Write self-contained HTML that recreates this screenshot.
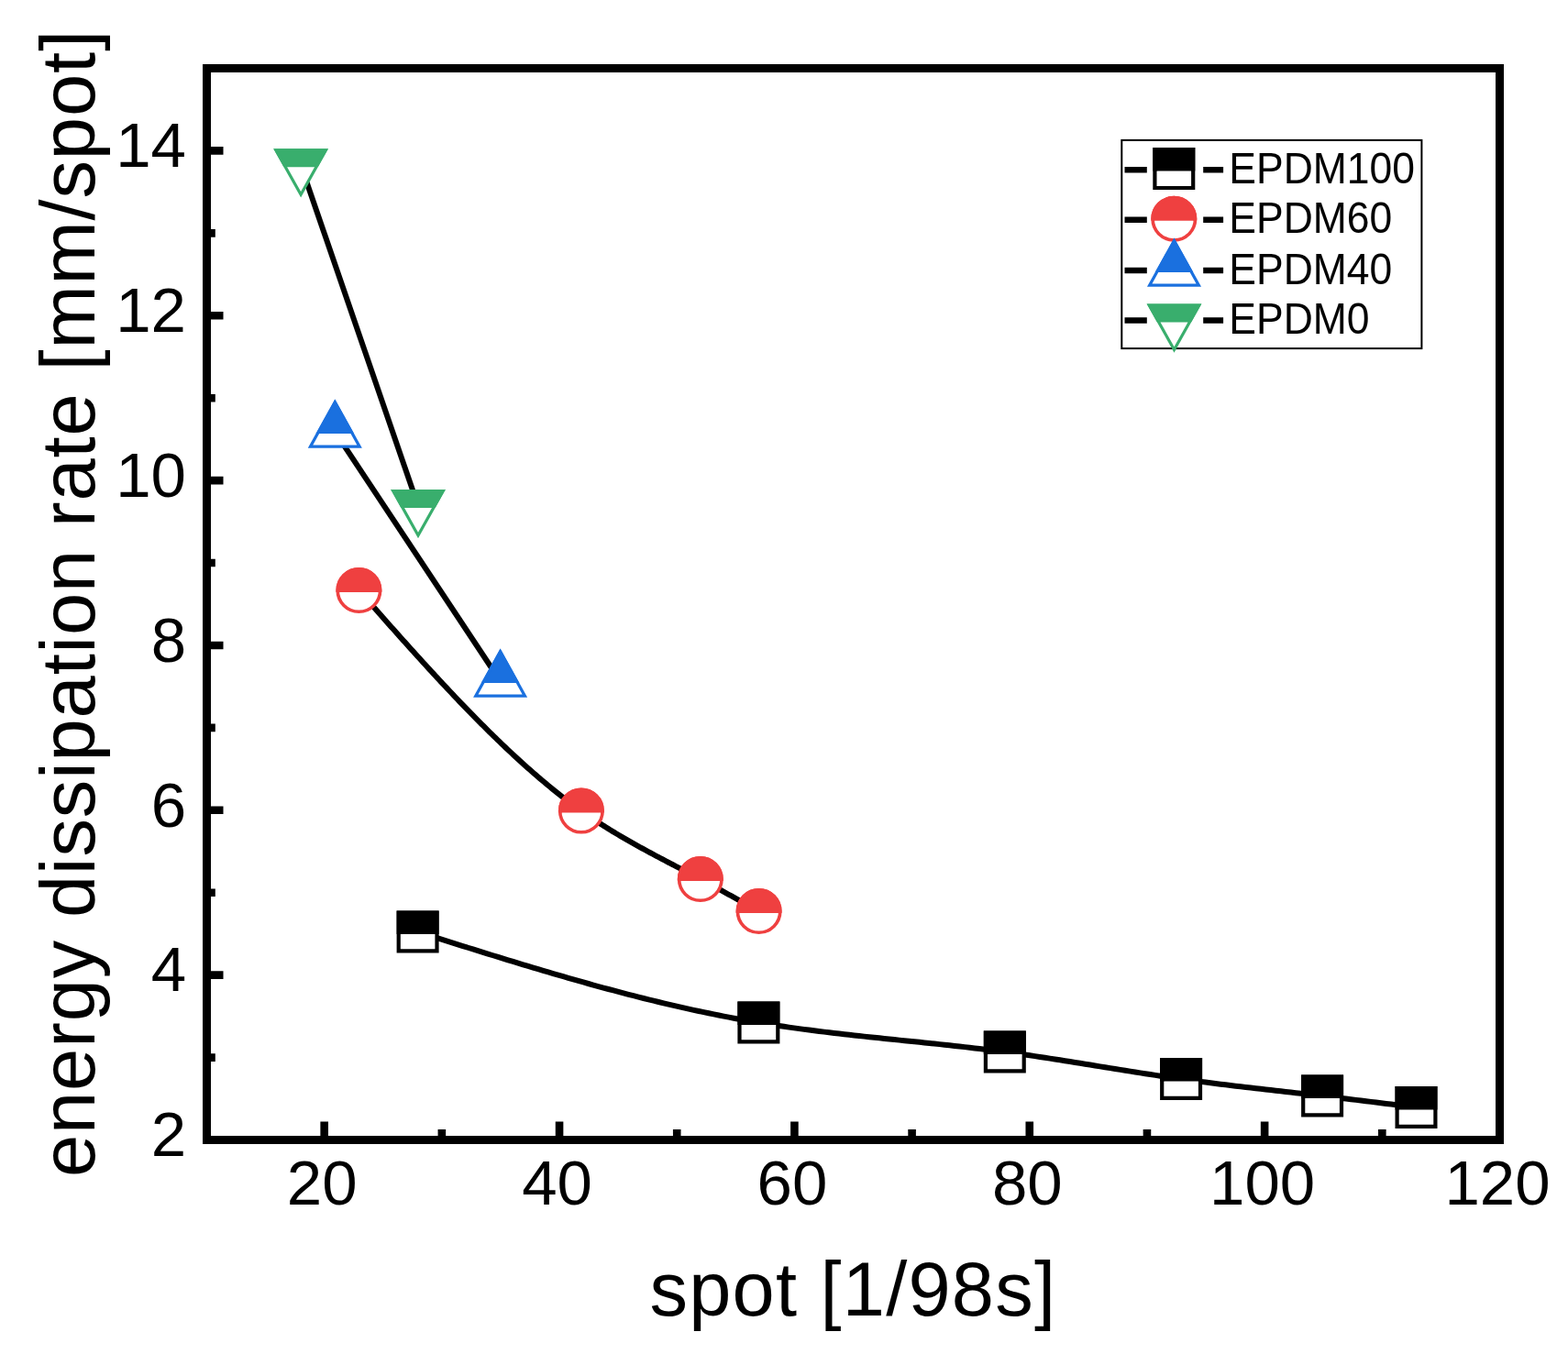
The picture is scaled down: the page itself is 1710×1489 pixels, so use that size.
<!DOCTYPE html>
<html><head><meta charset="utf-8"><title>energy dissipation rate vs spot</title>
<style>
html,body{margin:0;padding:0;background:#fff;}
body{width:1710px;height:1489px;overflow:hidden;}
svg{display:block;}
text{font-family:'Liberation Sans', Arial, sans-serif;fill:#000;}
</style></head><body>
<svg width="1710" height="1489" viewBox="0 0 1710 1489">
<rect x="0" y="0" width="1710" height="1489" fill="#fff"/>

<g fill="none" stroke="#000" stroke-width="6.0" stroke-linejoin="round">
<path d="M455.60,1016.50 L461.07,1018.23 L466.54,1019.96 L472.02,1021.69 L477.49,1023.42 L482.96,1025.14 L488.43,1026.87 L493.90,1028.59 L499.37,1030.31 L504.85,1032.03 L510.32,1033.74 L515.79,1035.45 L521.26,1037.16 L526.73,1038.86 L532.21,1040.56 L537.68,1042.25 L543.15,1043.94 L548.62,1045.62 L554.09,1047.30 L559.57,1048.97 L565.04,1050.63 L570.51,1052.29 L575.98,1053.94 L581.45,1055.58 L586.92,1057.21 L592.40,1058.83 L597.87,1060.45 L603.34,1062.05 L608.81,1063.65 L614.28,1065.23 L619.76,1066.81 L625.23,1068.38 L630.70,1069.93 L636.17,1071.47 L641.64,1073.00 L647.12,1074.52 L652.59,1076.03 L658.06,1077.52 L663.53,1079.00 L669.00,1080.47 L674.47,1081.92 L679.95,1083.36 L685.42,1084.79 L690.89,1086.20 L696.36,1087.59 L701.83,1088.97 L707.31,1090.33 L712.78,1091.68 L718.25,1093.01 L723.72,1094.32 L729.19,1095.62 L734.66,1096.89 L740.14,1098.15 L745.61,1099.39 L751.08,1100.61 L756.55,1101.82 L762.02,1103.00 L767.50,1104.16 L772.97,1105.31 L778.44,1106.43 L783.91,1107.53 L789.38,1108.61 L794.86,1109.67 L800.33,1110.71 L805.80,1111.72 L811.27,1112.71 L816.74,1113.68 L822.21,1114.63 L827.69,1115.55 L833.16,1116.44 L838.63,1117.32 L844.10,1118.17 L849.57,1119.00 L855.05,1119.81 L860.52,1120.60 L865.99,1121.37 L871.46,1122.12 L876.93,1122.86 L882.41,1123.57 L887.88,1124.28 L893.35,1124.96 L898.82,1125.64 L904.29,1126.30 L909.76,1126.94 L915.24,1127.58 L920.71,1128.20 L926.18,1128.82 L931.65,1129.43 L937.12,1130.02 L942.60,1130.61 L948.07,1131.20 L953.54,1131.78 L959.01,1132.35 L964.48,1132.92 L969.95,1133.48 L975.43,1134.05 L980.90,1134.61 L986.37,1135.17 L991.84,1135.73 L997.31,1136.29 L1002.79,1136.85 L1008.26,1137.42 L1013.73,1137.99 L1019.20,1138.56 L1024.67,1139.14 L1030.15,1139.73 L1035.62,1140.32 L1041.09,1140.92 L1046.56,1141.52 L1052.03,1142.14 L1057.50,1142.77 L1062.98,1143.40 L1068.45,1144.05 L1073.92,1144.71 L1079.39,1145.39 L1084.86,1146.08 L1090.34,1146.78 L1095.81,1147.50 L1101.28,1148.24 L1106.75,1148.99 L1112.22,1149.76 L1117.69,1150.54 L1123.17,1151.33 L1128.64,1152.14 L1134.11,1152.96 L1139.58,1153.78 L1145.05,1154.62 L1150.53,1155.47 L1156.00,1156.32 L1161.47,1157.19 L1166.94,1158.05 L1172.41,1158.93 L1177.89,1159.80 L1183.36,1160.68 L1188.83,1161.57 L1194.30,1162.45 L1199.77,1163.34 L1205.24,1164.22 L1210.72,1165.11 L1216.19,1165.99 L1221.66,1166.87 L1227.13,1167.75 L1232.60,1168.62 L1238.08,1169.48 L1243.55,1170.34 L1249.02,1171.20 L1254.49,1172.04 L1259.96,1172.88 L1265.44,1173.70 L1270.91,1174.52 L1276.38,1175.32 L1281.85,1176.11 L1287.32,1176.89 L1292.79,1177.65 L1298.27,1178.40 L1303.74,1179.14 L1309.21,1179.87 L1314.68,1180.58 L1320.15,1181.28 L1325.63,1181.97 L1331.10,1182.65 L1336.57,1183.33 L1342.04,1183.99 L1347.51,1184.65 L1352.98,1185.30 L1358.46,1185.94 L1363.93,1186.58 L1369.40,1187.21 L1374.87,1187.84 L1380.34,1188.47 L1385.82,1189.09 L1391.29,1189.71 L1396.76,1190.33 L1402.23,1190.95 L1407.70,1191.57 L1413.18,1192.19 L1418.65,1192.81 L1424.12,1193.43 L1429.59,1194.06 L1435.06,1194.68 L1440.53,1195.32 L1446.01,1195.96 L1451.48,1196.60 L1456.95,1197.25 L1462.42,1197.90 L1467.89,1198.55 L1473.37,1199.21 L1478.84,1199.87 L1484.31,1200.54 L1489.78,1201.21 L1495.25,1201.88 L1500.73,1202.55 L1506.20,1203.23 L1511.67,1203.91 L1517.14,1204.59 L1522.61,1205.27 L1528.08,1205.95 L1533.56,1206.63 L1539.03,1207.32 L1544.50,1208.00"/>
<path d="M391.40,644.00 L393.59,646.48 L395.78,648.97 L397.98,651.45 L400.17,653.94 L402.36,656.42 L404.55,658.90 L406.74,661.38 L408.94,663.86 L411.13,666.34 L413.32,668.82 L415.51,671.30 L417.70,673.77 L419.90,676.24 L422.09,678.71 L424.28,681.18 L426.47,683.65 L428.66,686.11 L430.86,688.57 L433.05,691.03 L435.24,693.49 L437.43,695.94 L439.62,698.39 L441.82,700.84 L444.01,703.28 L446.20,705.72 L448.39,708.15 L450.58,710.58 L452.77,713.01 L454.97,715.43 L457.16,717.85 L459.35,720.27 L461.54,722.67 L463.73,725.08 L465.93,727.48 L468.12,729.87 L470.31,732.26 L472.50,734.64 L474.69,737.02 L476.89,739.39 L479.08,741.76 L481.27,744.12 L483.46,746.47 L485.65,748.82 L487.85,751.16 L490.04,753.49 L492.23,755.82 L494.42,758.14 L496.61,760.45 L498.81,762.76 L501.00,765.06 L503.19,767.35 L505.38,769.63 L507.57,771.90 L509.77,774.17 L511.96,776.43 L514.15,778.68 L516.34,780.92 L518.53,783.15 L520.73,785.38 L522.92,787.59 L525.11,789.80 L527.30,791.99 L529.49,794.18 L531.69,796.36 L533.88,798.53 L536.07,800.68 L538.26,802.83 L540.45,804.97 L542.65,807.10 L544.84,809.21 L547.03,811.32 L549.22,813.41 L551.41,815.50 L553.61,817.57 L555.80,819.63 L557.99,821.68 L560.18,823.72 L562.37,825.75 L564.56,827.77 L566.76,829.77 L568.95,831.76 L571.14,833.74 L573.33,835.70 L575.52,837.66 L577.72,839.60 L579.91,841.53 L582.10,843.44 L584.29,845.34 L586.48,847.23 L588.68,849.11 L590.87,850.97 L593.06,852.81 L595.25,854.65 L597.44,856.47 L599.64,858.27 L601.83,860.06 L604.02,861.84 L606.21,863.60 L608.40,865.34 L610.60,867.07 L612.79,868.79 L614.98,870.49 L617.17,872.17 L619.36,873.84 L621.56,875.49 L623.75,877.13 L625.94,878.75 L628.13,880.36 L630.32,881.94 L632.52,883.52 L634.71,885.07 L636.90,886.61 L639.09,888.13 L641.28,889.64 L643.48,891.13 L645.67,892.60 L647.86,894.06 L650.05,895.51 L652.24,896.94 L654.44,898.35 L656.63,899.76 L658.82,901.15 L661.01,902.52 L663.20,903.89 L665.39,905.24 L667.59,906.58 L669.78,907.91 L671.97,909.23 L674.16,910.53 L676.35,911.83 L678.55,913.12 L680.74,914.39 L682.93,915.66 L685.12,916.92 L687.31,918.17 L689.51,919.41 L691.70,920.64 L693.89,921.87 L696.08,923.09 L698.27,924.30 L700.47,925.50 L702.66,926.70 L704.85,927.89 L707.04,929.08 L709.23,930.26 L711.43,931.44 L713.62,932.61 L715.81,933.78 L718.00,934.94 L720.19,936.10 L722.39,937.26 L724.58,938.42 L726.77,939.57 L728.96,940.72 L731.15,941.87 L733.35,943.02 L735.54,944.16 L737.73,945.31 L739.92,946.45 L742.11,947.60 L744.31,948.74 L746.50,949.89 L748.69,951.04 L750.88,952.18 L753.07,953.33 L755.27,954.49 L757.46,955.64 L759.65,956.80 L761.84,957.96 L764.03,959.12 L766.23,960.29 L768.42,961.46 L770.61,962.64 L772.80,963.82 L774.99,965.00 L777.18,966.18 L779.38,967.37 L781.57,968.56 L783.76,969.76 L785.95,970.95 L788.14,972.15 L790.34,973.35 L792.53,974.55 L794.72,975.76 L796.91,976.97 L799.10,978.18 L801.30,979.39 L803.49,980.60 L805.68,981.81 L807.87,983.03 L810.06,984.24 L812.26,985.46 L814.45,986.68 L816.64,987.90 L818.83,989.12 L821.02,990.34 L823.22,991.56 L825.41,992.78 L827.60,994.00"/>
<path d="M365.30,471.00 L545.60,743.00"/>
<path d="M328.10,180.20 L456.00,552.00"/>
</g>
<clipPath id="c1"><rect x="422.60" y="983.50" width="66.00" height="35.50"/></clipPath><path d="M434.70,995.60 H476.50 V1037.40 H434.70 Z" fill="#fff" stroke="#000000" stroke-width="4.2" stroke-linejoin="miter"/><path d="M434.70,995.60 H476.50 V1037.40 H434.70 Z" fill="#000000" stroke="#000000" stroke-width="4.2" stroke-linejoin="miter" clip-path="url(#c1)"/>
<clipPath id="c2"><rect x="794.40" y="1082.50" width="66.00" height="35.50"/></clipPath><path d="M806.50,1094.60 H848.30 V1136.40 H806.50 Z" fill="#fff" stroke="#000000" stroke-width="4.2" stroke-linejoin="miter"/><path d="M806.50,1094.60 H848.30 V1136.40 H806.50 Z" fill="#000000" stroke="#000000" stroke-width="4.2" stroke-linejoin="miter" clip-path="url(#c2)"/>
<clipPath id="c3"><rect x="1062.80" y="1114.50" width="66.00" height="35.50"/></clipPath><path d="M1074.90,1126.60 H1116.70 V1168.40 H1074.90 Z" fill="#fff" stroke="#000000" stroke-width="4.2" stroke-linejoin="miter"/><path d="M1074.90,1126.60 H1116.70 V1168.40 H1074.90 Z" fill="#000000" stroke="#000000" stroke-width="4.2" stroke-linejoin="miter" clip-path="url(#c3)"/>
<clipPath id="c4"><rect x="1255.10" y="1144.00" width="66.00" height="35.50"/></clipPath><path d="M1267.20,1156.10 H1309.00 V1197.90 H1267.20 Z" fill="#fff" stroke="#000000" stroke-width="4.2" stroke-linejoin="miter"/><path d="M1267.20,1156.10 H1309.00 V1197.90 H1267.20 Z" fill="#000000" stroke="#000000" stroke-width="4.2" stroke-linejoin="miter" clip-path="url(#c4)"/>
<clipPath id="c5"><rect x="1409.10" y="1162.50" width="66.00" height="35.50"/></clipPath><path d="M1421.20,1174.60 H1463.00 V1216.40 H1421.20 Z" fill="#fff" stroke="#000000" stroke-width="4.2" stroke-linejoin="miter"/><path d="M1421.20,1174.60 H1463.00 V1216.40 H1421.20 Z" fill="#000000" stroke="#000000" stroke-width="4.2" stroke-linejoin="miter" clip-path="url(#c5)"/>
<clipPath id="c6"><rect x="1511.50" y="1175.00" width="66.00" height="35.50"/></clipPath><path d="M1523.60,1187.10 H1565.40 V1228.90 H1523.60 Z" fill="#fff" stroke="#000000" stroke-width="4.2" stroke-linejoin="miter"/><path d="M1523.60,1187.10 H1565.40 V1228.90 H1523.60 Z" fill="#000000" stroke="#000000" stroke-width="4.2" stroke-linejoin="miter" clip-path="url(#c6)"/>
<clipPath id="c7"><rect x="356.40" y="609.00" width="70.00" height="37.00"/></clipPath><path d="M368.20,644.00 A23.20,23.20 0 1 0 414.60,644.00 A23.20,23.20 0 1 0 368.20,644.00 Z" fill="#fff" stroke="#EF4040" stroke-width="3.6" stroke-linejoin="miter"/><path d="M368.20,644.00 A23.20,23.20 0 1 0 414.60,644.00 A23.20,23.20 0 1 0 368.20,644.00 Z" fill="#EF4040" stroke="#EF4040" stroke-width="3.6" stroke-linejoin="miter" clip-path="url(#c7)"/>
<clipPath id="c8"><rect x="598.90" y="849.50" width="70.00" height="37.00"/></clipPath><path d="M610.70,884.50 A23.20,23.20 0 1 0 657.10,884.50 A23.20,23.20 0 1 0 610.70,884.50 Z" fill="#fff" stroke="#EF4040" stroke-width="3.6" stroke-linejoin="miter"/><path d="M610.70,884.50 A23.20,23.20 0 1 0 657.10,884.50 A23.20,23.20 0 1 0 610.70,884.50 Z" fill="#EF4040" stroke="#EF4040" stroke-width="3.6" stroke-linejoin="miter" clip-path="url(#c8)"/>
<clipPath id="c9"><rect x="728.80" y="924.00" width="70.00" height="37.00"/></clipPath><path d="M740.60,959.00 A23.20,23.20 0 1 0 787.00,959.00 A23.20,23.20 0 1 0 740.60,959.00 Z" fill="#fff" stroke="#EF4040" stroke-width="3.6" stroke-linejoin="miter"/><path d="M740.60,959.00 A23.20,23.20 0 1 0 787.00,959.00 A23.20,23.20 0 1 0 740.60,959.00 Z" fill="#EF4040" stroke="#EF4040" stroke-width="3.6" stroke-linejoin="miter" clip-path="url(#c9)"/>
<clipPath id="c10"><rect x="792.60" y="959.00" width="70.00" height="37.00"/></clipPath><path d="M804.40,994.00 A23.20,23.20 0 1 0 850.80,994.00 A23.20,23.20 0 1 0 804.40,994.00 Z" fill="#fff" stroke="#EF4040" stroke-width="3.6" stroke-linejoin="miter"/><path d="M804.40,994.00 A23.20,23.20 0 1 0 850.80,994.00 A23.20,23.20 0 1 0 804.40,994.00 Z" fill="#EF4040" stroke="#EF4040" stroke-width="3.6" stroke-linejoin="miter" clip-path="url(#c10)"/>
<clipPath id="c11"><rect x="325.30" y="425.00" width="80.00" height="48.00"/></clipPath><path d="M365.30,438.70 L392.13,487.20 L338.47,487.20 Z" fill="#fff" stroke="#1A70DF" stroke-width="3.2" stroke-linejoin="miter"/><path d="M365.30,438.70 L392.13,487.20 L338.47,487.20 Z" fill="#1A70DF" stroke="#1A70DF" stroke-width="3.2" stroke-linejoin="miter" clip-path="url(#c11)"/>
<clipPath id="c12"><rect x="505.60" y="697.00" width="80.00" height="48.00"/></clipPath><path d="M545.60,710.70 L572.43,759.20 L518.77,759.20 Z" fill="#fff" stroke="#1A70DF" stroke-width="3.2" stroke-linejoin="miter"/><path d="M545.60,710.70 L572.43,759.20 L518.77,759.20 Z" fill="#1A70DF" stroke="#1A70DF" stroke-width="3.2" stroke-linejoin="miter" clip-path="url(#c12)"/>
<clipPath id="c13"><rect x="288.10" y="152.20" width="80.00" height="30.00"/></clipPath><path d="M300.97,163.80 L355.23,163.80 L328.10,212.20 Z" fill="#fff" stroke="#39AE6D" stroke-width="3.2" stroke-linejoin="miter"/><path d="M300.97,163.80 L355.23,163.80 L328.10,212.20 Z" fill="#39AE6D" stroke="#39AE6D" stroke-width="3.2" stroke-linejoin="miter" clip-path="url(#c13)"/>
<clipPath id="c14"><rect x="416.00" y="524.00" width="80.00" height="30.00"/></clipPath><path d="M428.87,535.60 L483.13,535.60 L456.00,584.00 Z" fill="#fff" stroke="#39AE6D" stroke-width="3.2" stroke-linejoin="miter"/><path d="M428.87,535.60 L483.13,535.60 L456.00,584.00 Z" fill="#39AE6D" stroke="#39AE6D" stroke-width="3.2" stroke-linejoin="miter" clip-path="url(#c14)"/>
<rect x="225.5" y="74.5" width="1410.0" height="1169.0" fill="none" stroke="#000" stroke-width="9" stroke-linejoin="miter"/>
<path d="M353.68,1243.50 V1223.50 M481.86,1243.50 V1232.00 M610.05,1243.50 V1223.50 M738.23,1243.50 V1232.00 M866.41,1243.50 V1223.50 M994.59,1243.50 V1232.00 M1122.77,1243.50 V1223.50 M1250.95,1243.50 V1232.00 M1379.14,1243.50 V1223.50 M1507.32,1243.50 V1232.00 M225.50,1153.58 H234.80 M225.50,1063.65 H243.50 M225.50,973.73 H234.80 M225.50,883.81 H243.50 M225.50,793.88 H234.80 M225.50,703.96 H243.50 M225.50,614.04 H234.80 M225.50,524.12 H243.50 M225.50,434.19 H234.80 M225.50,344.27 H243.50 M225.50,254.35 H234.80 M225.50,164.42 H243.50" stroke="#000" stroke-width="8.6" fill="none"/>
<text x="351.18" y="1314" font-size="69" text-anchor="middle">20</text>
<text x="607.55" y="1314" font-size="69" text-anchor="middle">40</text>
<text x="863.91" y="1314" font-size="69" text-anchor="middle">60</text>
<text x="1120.27" y="1314" font-size="69" text-anchor="middle">80</text>
<text x="1376.64" y="1314" font-size="69" text-anchor="middle">100</text>
<text x="1633.00" y="1314" font-size="69" text-anchor="middle">120</text>
<text x="203" y="1261.30" font-size="69" text-anchor="end">2</text>
<text x="203" y="1081.45" font-size="69" text-anchor="end">4</text>
<text x="203" y="901.61" font-size="69" text-anchor="end">6</text>
<text x="203" y="721.76" font-size="69" text-anchor="end">8</text>
<text x="203" y="541.92" font-size="69" text-anchor="end">10</text>
<text x="203" y="362.07" font-size="69" text-anchor="end">12</text>
<text x="203" y="182.22" font-size="69" text-anchor="end">14</text>
<text x="708.5" y="1435" font-size="83" textLength="442.5" lengthAdjust="spacing">spot [1/98s]</text>
<text transform="translate(102.5,1284) rotate(-90)" x="0" y="0" font-size="83" textLength="1251" lengthAdjust="spacing">energy dissipation rate [mm/spot]</text>
<rect x="1223.3" y="152.9" width="327.1" height="227.2" fill="#fff" stroke="#000" stroke-width="2"/>
<path d="M1226.5,185.30 H1250.8 M1312.2,185.30 H1334.1" stroke="#000" stroke-width="6.5" fill="none"/>
<clipPath id="c15"><rect x="1247.30" y="151.10" width="66.00" height="35.50"/></clipPath><path d="M1259.40,163.20 H1301.20 V205.00 H1259.40 Z" fill="#fff" stroke="#000000" stroke-width="4.2" stroke-linejoin="miter"/><path d="M1259.40,163.20 H1301.20 V205.00 H1259.40 Z" fill="#000000" stroke="#000000" stroke-width="4.2" stroke-linejoin="miter" clip-path="url(#c15)"/>
<text transform="translate(1340.3,199.80) scale(1,1.085)" x="0" y="0" font-size="44.5">EPDM100</text>
<path d="M1226.5,239.80 H1250.8 M1312.2,239.80 H1334.1" stroke="#000" stroke-width="6.5" fill="none"/>
<clipPath id="c16"><rect x="1245.30" y="203.80" width="70.00" height="37.00"/></clipPath><path d="M1257.10,238.80 A23.20,23.20 0 1 0 1303.50,238.80 A23.20,23.20 0 1 0 1257.10,238.80 Z" fill="#fff" stroke="#EF4040" stroke-width="3.6" stroke-linejoin="miter"/><path d="M1257.10,238.80 A23.20,23.20 0 1 0 1303.50,238.80 A23.20,23.20 0 1 0 1257.10,238.80 Z" fill="#EF4040" stroke="#EF4040" stroke-width="3.6" stroke-linejoin="miter" clip-path="url(#c16)"/>
<text transform="translate(1340.3,254.30) scale(1,1.085)" x="0" y="0" font-size="44.5">EPDM60</text>
<path d="M1226.5,295.00 H1250.8 M1312.2,295.00 H1334.1" stroke="#000" stroke-width="6.5" fill="none"/>
<clipPath id="c17"><rect x="1240.50" y="249.00" width="80.00" height="48.00"/></clipPath><path d="M1280.50,262.70 L1307.33,311.20 L1253.67,311.20 Z" fill="#fff" stroke="#1A70DF" stroke-width="3.2" stroke-linejoin="miter"/><path d="M1280.50,262.70 L1307.33,311.20 L1253.67,311.20 Z" fill="#1A70DF" stroke="#1A70DF" stroke-width="3.2" stroke-linejoin="miter" clip-path="url(#c17)"/>
<text transform="translate(1340.3,309.50) scale(1,1.085)" x="0" y="0" font-size="44.5">EPDM40</text>
<path d="M1226.5,349.50 H1250.8 M1312.2,349.50 H1334.1" stroke="#000" stroke-width="6.5" fill="none"/>
<clipPath id="c18"><rect x="1240.50" y="321.50" width="80.00" height="30.00"/></clipPath><path d="M1253.37,333.10 L1307.63,333.10 L1280.50,381.50 Z" fill="#fff" stroke="#39AE6D" stroke-width="3.2" stroke-linejoin="miter"/><path d="M1253.37,333.10 L1307.63,333.10 L1280.50,381.50 Z" fill="#39AE6D" stroke="#39AE6D" stroke-width="3.2" stroke-linejoin="miter" clip-path="url(#c18)"/>
<text transform="translate(1340.3,364.00) scale(1,1.085)" x="0" y="0" font-size="44.5">EPDM0</text>
</svg>
</body></html>
